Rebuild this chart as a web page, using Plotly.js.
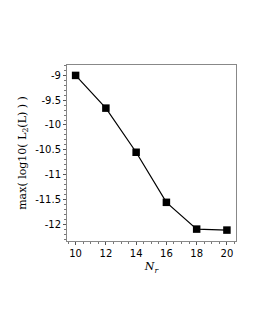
<!DOCTYPE html>
<html><head><meta charset="utf-8">
<script src="https://cdn.plot.ly/plotly-3.0.1.min.js"></script>
<style>html,body{margin:0;padding:0;background:#fff}</style>
</head><body>
<div id="chart" style="width:255px;height:330px"></div>
<script>
const Nr = [10, 12, 14, 16, 18, 20];
const maxLog10L2 = [-9.0, -9.66, -10.55, -11.56, -12.10, -12.12];
const xTickVals = [10, 12, 14, 16, 18, 20];
const yTickVals = [-9, -9.5, -10, -10.5, -11, -11.5, -12];

const trace = {
  x: Nr, y: maxLog10L2, type: 'scatter', mode: 'lines+markers',
  line: {color: '#000', width: 1.2},
  marker: {symbol: 'square', size: 7.5, color: '#000'},
  showlegend: false
};
const layout = {
  width: 255, height: 330,
  margin: {l: 67, r: 19, t: 65, b: 89},
  paper_bgcolor: '#fff', plot_bgcolor: '#fff',
  font: {family: 'DejaVu Sans, sans-serif', size: 10, color: '#000'},
  xaxis: {
    range: [9.43, 20.6], tickvals: xTickVals, ticktext: xTickVals.map(String),
    ticks: 'outside', ticklen: 3, tickcolor: '#555', showgrid: false, zeroline: false,
    showline: true, linecolor: '#888', linewidth: 1, mirror: true,
    minor: {dtick: 0.5, ticks: 'outside', ticklen: 2, tickcolor: '#777', showgrid: false},
    title: {text: '<i>N<sub>r</sub></i>', font: {family: 'DejaVu Serif, serif', size: 11}, standoff: 4}
  },
  yaxis: {
    range: [-12.34, -8.79], tickvals: yTickVals, ticktext: yTickVals.map(v => String(v)),
    ticks: 'outside', ticklen: 3, tickcolor: '#555', showgrid: false, zeroline: false,
    showline: true, linecolor: '#888', linewidth: 1, mirror: true,
    minor: {dtick: 0.1, ticks: 'outside', ticklen: 2, tickcolor: '#777', showgrid: false},
    title: {text: 'max( log10( L<sub>2</sub>(L) ) )', font: {family: 'DejaVu Serif, serif', size: 11}, standoff: 6}
  }
};
Plotly.newPlot('chart', [trace], layout, {displayModeBar: false, staticPlot: true});
</script>
</body></html>
